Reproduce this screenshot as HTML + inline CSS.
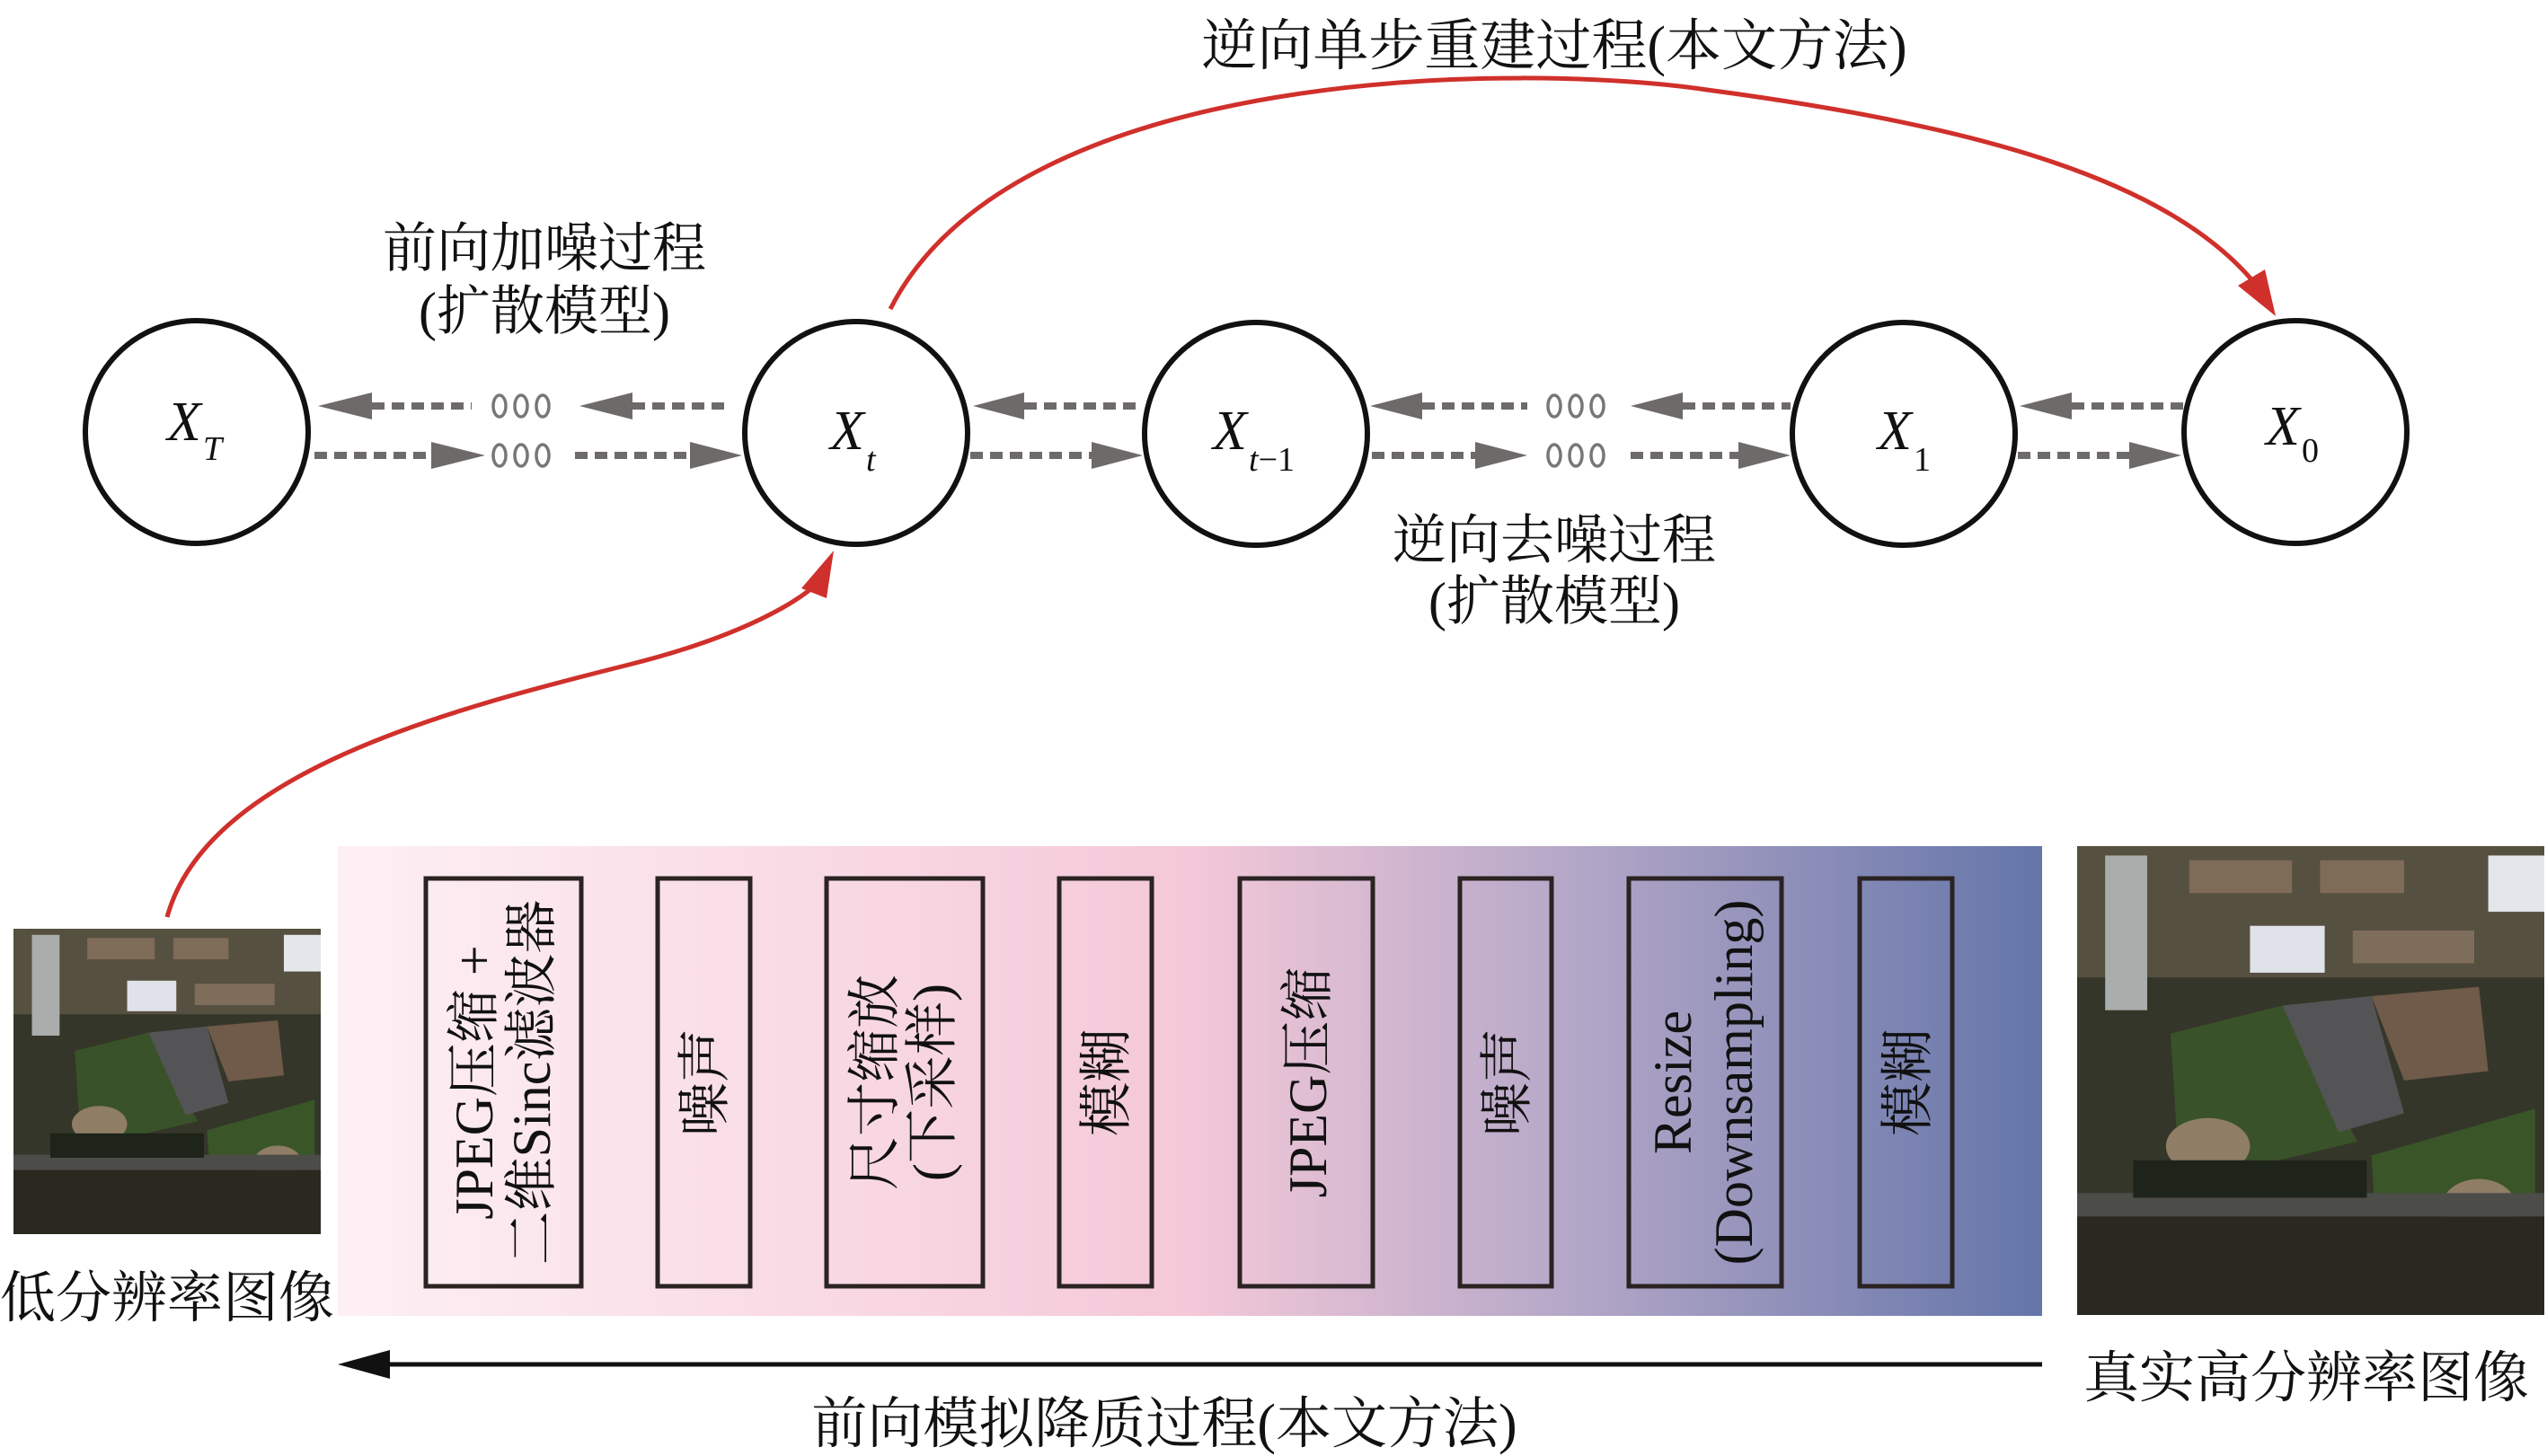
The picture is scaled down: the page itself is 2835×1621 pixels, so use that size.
<!DOCTYPE html>
<html><head><meta charset="utf-8"><style>
html,body{margin:0;padding:0;background:#fff}
svg{display:block}
text{font-family:"Liberation Serif","Noto Serif CJK SC",serif;fill:#111}
.it{font-style:italic}
</style></head><body>
<svg width="2835" height="1621" viewBox="0 0 2835 1621" xmlns="http://www.w3.org/2000/svg">
<defs>
<linearGradient id="bg" x1="0" x2="1" y1="0" y2="0">
<stop offset="0" stop-color="#fdf0f4"/>
<stop offset="0.25" stop-color="#f9dce6"/>
<stop offset="0.5" stop-color="#f4c8d8"/>
<stop offset="0.72" stop-color="#b5a8c8"/>
<stop offset="1" stop-color="#6475a9"/>
</linearGradient>
<g id="photo">
<rect x="0" y="0" width="100" height="100" fill="#35362a"/>
<rect x="0" y="0" width="100" height="28" fill="#55503f"/>
<rect x="24" y="3" width="22" height="7" fill="#7e6b58"/>
<rect x="52" y="3" width="18" height="7" fill="#7e6b58"/>
<rect x="37" y="17" width="16" height="10" fill="#dfe2e8"/>
<rect x="59" y="18" width="26" height="7" fill="#7f6d5b"/>
<rect x="88" y="2" width="12" height="12" fill="#e3e6ea"/>
<rect x="6" y="2" width="9" height="33" fill="#a9adab"/>
<polygon points="20,40 44,34 60,63 22,72" fill="#3a5229"/>
<polygon points="44,34 63,32 70,57 56,61" fill="#545456"/>
<polygon points="63,32 86,30 88,48 70,50" fill="#705a4a"/>
<ellipse cx="28" cy="64" rx="9" ry="6" fill="#8f7d66"/>
<polygon points="63,66 98,56 98,79 64,81" fill="#3a5629"/>
<ellipse cx="86" cy="77" rx="8" ry="6" fill="#8f7d66"/>
<rect x="0" y="74" width="100" height="5" fill="#4c4c48"/>
<rect x="0" y="79" width="100" height="21" fill="#29291f"/>
<rect x="12" y="67" width="50" height="8" fill="#1e2419"/>
</g>
</defs>

<text x="1730" y="72" font-size="62" text-anchor="middle">逆向单步重建过程(本文方法)</text>
<text x="606" y="297" font-size="60" text-anchor="middle">前向加噪过程</text>
<text x="606" y="367" font-size="60" text-anchor="middle">(扩散模型)</text>
<text x="1730" y="622" font-size="60" text-anchor="middle">逆向去噪过程</text>
<text x="1730" y="690" font-size="60" text-anchor="middle">(扩散模型)</text>

<path d="M991,344 C1130,70 1700,70 1900,100 C2200,140 2420,200 2515,322" fill="none" stroke="#d0302b" stroke-width="5"/>
<polygon points="2533,352 2491,318 2521,300" fill="#d0302b"/>
<path d="M186,1021 C230,860 500,790 700,740 C840,705 905,660 918,640" fill="none" stroke="#d0302b" stroke-width="5"/>
<polygon points="928,613 920,666 892,655" fill="#d0302b"/>

<g fill="#fff" stroke="#111" stroke-width="6">
<circle cx="219" cy="481" r="124"/>
<circle cx="953" cy="482" r="124"/>
<circle cx="1398" cy="483" r="124"/>
<circle cx="2119" cy="483" r="124"/>
<circle cx="2555" cy="481" r="124"/>
</g>
<text x="186" y="490" font-size="62" class="it">X</text><text x="226" y="512" font-size="38" class="it">T</text>
<text x="924" y="500" font-size="62" class="it">X</text><text x="964" y="524" font-size="38" class="it">t</text>
<text x="1350" y="500" font-size="62" class="it">X</text><text x="1390" y="524" font-size="38"><tspan class="it">t</tspan>−1</text>
<text x="2090" y="500" font-size="62" class="it">X</text><text x="2130" y="524" font-size="38">1</text>
<text x="2522" y="495" font-size="62" class="it">X</text><text x="2562" y="514" font-size="38">0</text>

<g stroke="#6e6a6a" stroke-width="8" stroke-dasharray="14,8" fill="none">
<line x1="414" y1="452" x2="525" y2="452"/>
<line x1="704" y1="452" x2="812" y2="452"/>
<line x1="350" y1="507" x2="480" y2="507"/>
<line x1="640" y1="507" x2="770" y2="507"/>
<line x1="1140" y1="452" x2="1272" y2="452"/>
<line x1="1080" y1="507" x2="1215" y2="507"/>
<line x1="1583" y1="452" x2="1700" y2="452"/>
<line x1="1873" y1="452" x2="1993" y2="452"/>
<line x1="1527" y1="507" x2="1642" y2="507"/>
<line x1="1815" y1="507" x2="1935" y2="507"/>
<line x1="2306" y1="452" x2="2430" y2="452"/>
<line x1="2246" y1="507" x2="2370" y2="507"/>
</g>
<g fill="#6e6a6a">
<polygon points="354,452 414,437 414,467"/>
<polygon points="645,452 704,437 704,467"/>
<polygon points="540,507 480,492 480,522"/>
<polygon points="826,507 768,492 768,522"/>
<polygon points="1083,452 1140,437 1140,467"/>
<polygon points="1272,507 1215,492 1215,522"/>
<polygon points="1525,452 1583,437 1583,467"/>
<polygon points="1815,452 1873,437 1873,467"/>
<polygon points="1700,507 1642,492 1642,522"/>
<polygon points="1993,507 1935,492 1935,522"/>
<polygon points="2248,452 2306,437 2306,467"/>
<polygon points="2428,507 2370,492 2370,522"/>
</g>
<g fill="none" stroke="#777" stroke-width="3.5">
<ellipse cx="556" cy="452" rx="7" ry="12"/><ellipse cx="580" cy="452" rx="7" ry="12"/><ellipse cx="604" cy="452" rx="7" ry="12"/>
<ellipse cx="556" cy="507" rx="7" ry="12"/><ellipse cx="580" cy="507" rx="7" ry="12"/><ellipse cx="604" cy="507" rx="7" ry="12"/>
<ellipse cx="1730" cy="452" rx="7" ry="12"/><ellipse cx="1754" cy="452" rx="7" ry="12"/><ellipse cx="1778" cy="452" rx="7" ry="12"/>
<ellipse cx="1730" cy="507" rx="7" ry="12"/><ellipse cx="1754" cy="507" rx="7" ry="12"/><ellipse cx="1778" cy="507" rx="7" ry="12"/>
</g>

<rect x="376" y="942" width="1897" height="523" fill="url(#bg)"/>
<g fill="none" stroke="#2a2322" stroke-width="5">
<rect x="474" y="978" width="173" height="454"/>
<rect x="732" y="978" width="103" height="454"/>
<rect x="920" y="978" width="174" height="454"/>
<rect x="1179" y="978" width="103" height="454"/>
<rect x="1380" y="978" width="148" height="454"/>
<rect x="1625" y="978" width="102" height="454"/>
<rect x="1813" y="978" width="170" height="454"/>
<rect x="2070" y="978" width="103" height="454"/>
</g>
<g font-size="60" text-anchor="middle">
<text transform="translate(548,1205) rotate(-90)">JPEG压缩 +</text>
<text transform="translate(612,1205) rotate(-90)">二维Sinc滤波器</text>
<text transform="translate(805,1205) rotate(-90)">噪声</text>
<text transform="translate(994,1205) rotate(-90)">尺寸缩放</text>
<text transform="translate(1058,1205) rotate(-90)">(下采样)</text>
<text transform="translate(1252,1205) rotate(-90)">模糊</text>
<text transform="translate(1476,1205) rotate(-90)">JPEG压缩</text>
<text transform="translate(1698,1205) rotate(-90)">噪声</text>
<text transform="translate(1882,1205) rotate(-90)">Resize</text>
<text transform="translate(1950,1205) rotate(-90)">(Downsampling)</text>
<text transform="translate(2144,1205) rotate(-90)">模糊</text>
</g>

<g transform="translate(15,1034) scale(3.42,3.4)"><use href="#photo"/></g>
<g transform="translate(2312,942) scale(5.2,5.22)"><use href="#photo"/></g>
<text x="0" y="1466" font-size="62">低分辨率图像</text>
<text x="2567" y="1555" font-size="62" text-anchor="middle">真实高分辨率图像</text>

<line x1="2273" y1="1519" x2="420" y2="1519" stroke="#111" stroke-width="5"/>
<polygon points="376,1519 434,1503 434,1535" fill="#111"/>
<text x="1296" y="1606" font-size="62" text-anchor="middle">前向模拟降质过程(本文方法)</text>
</svg>
</body></html>
